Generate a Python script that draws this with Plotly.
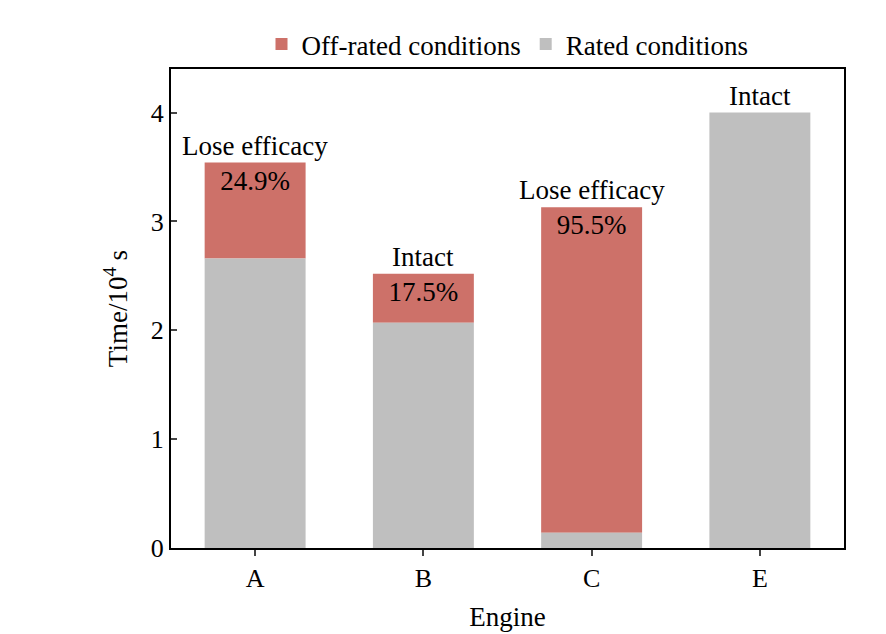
from plotly import graph_objects as go


engines = ['A', 'B', 'C', 'E']
rated = [2.66, 2.07, 0.14, 4.0]
off_rated = [0.88, 0.45, 2.99, 0]
shares = ['24.9%', '17.5%', '95.5%', '']
states = ['Lose efficacy', 'Intact', 'Lose efficacy', 'Intact']

serif = 'Liberation Serif'  # Times-like

# visualizing
fig = go.Figure()

fig.add_trace(go.Bar(
    x=engines, y=off_rated, base=rated,
    name='Off-rated conditions', marker_color='#CD7169', marker_line_width=0,
    text=shares, textposition='inside', insidetextanchor='end',
    textfont=dict(family=serif, size=27, color='black'), width=0.6,
))
fig.add_trace(go.Bar(
    x=engines, y=rated,
    name='Rated conditions', marker_color='#BFBFBF', marker_line_width=0,
    width=0.6,
))

for eng, r, o, s in zip(engines, rated, off_rated, states):
    fig.add_annotation(x=eng, y=r + o, text=s, showarrow=False,
                       yanchor='bottom', yshift=0,
                       font=dict(family=serif, size=27, color='black'))

fig.update_layout(
    barmode='overlay',
    width=886, height=634,
    margin=dict(l=163, r=50, t=44, b=94),
    plot_bgcolor='white', paper_bgcolor='white',
    font=dict(family=serif, size=26, color='black'),
    legend=dict(orientation='h', x=0.5, xanchor='center', y=1.0, yanchor='bottom',
                traceorder='normal', bgcolor='rgba(0,0,0,0)',
                font=dict(family=serif, size=27, color='black')),
    xaxis=dict(title=dict(text='Engine', font=dict(family=serif, size=27)),
               tickfont=dict(family=serif, size=26),
               showline=True, linecolor='black', linewidth=2,
               mirror=True, ticks='outside', ticklen=6, tickwidth=2),
    yaxis=dict(title=dict(text='Time/10<sup>4</sup> s', font=dict(family=serif, size=27)),
               tickfont=dict(family=serif, size=26),
               range=[0, 4.4], dtick=1,
               showline=True, linecolor='black', linewidth=2, mirror=True,
               ticks='inside', ticklen=6, tickwidth=2, showgrid=False,
               zeroline=False),
    showlegend=True,
)

fig.write_html('out.html')
